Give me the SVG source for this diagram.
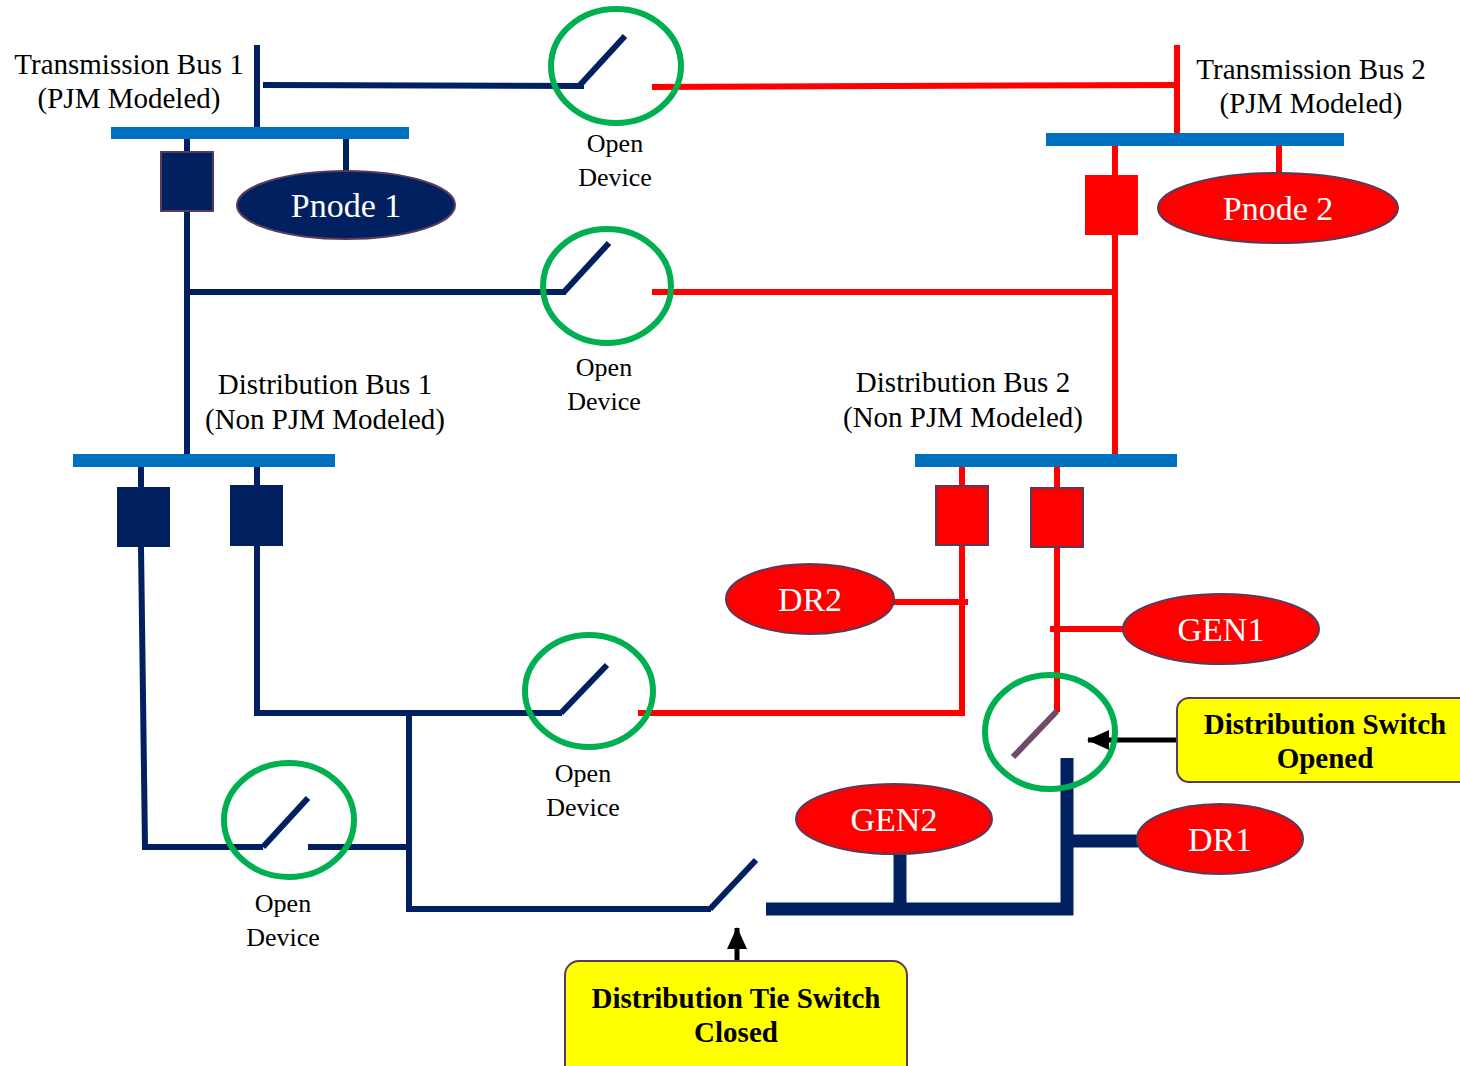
<svg xmlns="http://www.w3.org/2000/svg" width="1460" height="1066" viewBox="0 0 1460 1066">
<style>
.t{font-family:"Liberation Serif","Times New Roman",serif;font-size:26px;fill:#000;text-anchor:middle}
.l{font-family:"Liberation Serif","Times New Roman",serif;font-size:29px;fill:#000;text-anchor:middle}
.b{font-family:"Liberation Serif","Times New Roman",serif;font-size:29px;font-weight:bold;fill:#000;text-anchor:middle}
.w{font-family:"Liberation Serif","Times New Roman",serif;font-size:34px;fill:#fff;text-anchor:middle}
.nv{stroke:#002060;stroke-width:6;fill:none}
.nvt{stroke:#002060;stroke-width:13;fill:none}
.rd{stroke:#FF0000;stroke-width:6;fill:none}
.bus{fill:#0070C0}
.ring{fill:none;stroke:#00B050;stroke-width:6}
.eb{fill:#002060;stroke:#5A3A5A;stroke-width:2}
.er{fill:#FF0000;stroke:#5A3A5A;stroke-width:2}
.bxn{fill:#002060;stroke:#5A3A5A;stroke-width:2}
.bxr{fill:#FF0000;stroke:#5A3A5A;stroke-width:2}
.call{fill:#FFFF00;stroke:#5A3A5A;stroke-width:2}
</style>
<defs>
<marker id="ah" markerWidth="22" markerHeight="20" refX="21" refY="10" orient="auto" markerUnits="userSpaceOnUse">
<path d="M0,0 L22,10 L0,20 Z" fill="#000"/>
</marker>
</defs>

<g id="connectors">
<line class="nv" x1="257" y1="45" x2="257" y2="128"/>
<line class="nv" x1="263" y1="85" x2="584" y2="86"/>
<line class="nv" x1="346" y1="139" x2="346" y2="171"/>
<line class="nv" x1="187" y1="139" x2="187" y2="454"/>
<line class="nv" x1="187" y1="292" x2="566" y2="292"/>
<line class="rd" x1="652" y1="87" x2="1177" y2="85"/>
<line class="rd" x1="1177" y1="45" x2="1177" y2="134"/>
<line class="rd" x1="1279" y1="146" x2="1279" y2="174"/>
<line class="rd" x1="1115" y1="146" x2="1115" y2="454"/>
<line class="rd" x1="652" y1="292" x2="1115" y2="292"/>
<line class="nv" x1="141" y1="467" x2="141" y2="488"/>
<polyline class="nv" points="141,547 145,847 263,847"/>
<line class="nv" x1="257" y1="462" x2="257" y2="486"/>
<polyline class="nv" points="257,545 257,713 562,713"/>
<line class="nv" x1="308" y1="847" x2="409" y2="847"/>
<polyline class="nv" points="409,713 409,909 711,909"/>
<line class="rd" x1="962" y1="462" x2="962" y2="487"/>
<polyline class="rd" points="962,545 962,713 638,713"/>
<line class="rd" x1="893" y1="602" x2="968" y2="602"/>
<line class="rd" x1="1057" y1="462" x2="1057" y2="489"/>
<line class="rd" x1="1057" y1="547" x2="1057" y2="712"/>
<line class="rd" x1="1050" y1="629" x2="1124" y2="629"/>
<polyline class="nvt" points="766,909 1067,909 1067,758"/>
<line class="nvt" x1="900" y1="855" x2="900" y2="903"/>
<line class="nvt" x1="1073" y1="841" x2="1138" y2="841"/>
<line class="nv" x1="580" y1="85" x2="625" y2="36"/>
<line class="nv" x1="564" y1="292" x2="609" y2="243"/>
<line class="nv" x1="561" y1="713" x2="607" y2="665"/>
<line class="nv" x1="263" y1="847" x2="308" y2="798"/>
<line class="nv" x1="710" y1="909" x2="756" y2="860"/>
<line stroke="#704A68" stroke-width="6" x1="1057" y1="711" x2="1013" y2="757"/>
<line stroke="#000" stroke-width="5" x1="1177" y1="740" x2="1088" y2="740" marker-end="url(#ah)"/>
<line stroke="#000" stroke-width="5" x1="737" y1="960" x2="737" y2="928" marker-end="url(#ah)"/>
</g>

<g id="tbus1"><rect class="bus" x="111" y="127" width="298" height="12"/>
<text class="l" x="129" y="74">Transmission Bus 1</text><text class="l" x="129" y="108">(PJM Modeled)</text></g>
<g id="tbus2"><rect class="bus" x="1046" y="133" width="298" height="13"/>
<text class="l" x="1311" y="79">Transmission Bus 2</text><text class="l" x="1311" y="113">(PJM Modeled)</text></g>
<g id="dbus1"><rect class="bus" x="73" y="454" width="262" height="13"/>
<text class="l" x="325" y="394">Distribution Bus 1</text><text class="l" x="325" y="429">(Non PJM Modeled)</text></g>
<g id="dbus2"><rect class="bus" x="915" y="454" width="262" height="13"/>
<text class="l" x="963" y="392">Distribution Bus 2</text><text class="l" x="963" y="427">(Non PJM Modeled)</text></g>

<g id="breaker-t1"><rect class="bxn" x="161" y="152" width="52" height="59"/></g>
<g id="breaker-t2"><rect fill="#FF0000" x="1085" y="175" width="53" height="60"/></g>
<g id="breaker-d1a"><rect fill="#002060" x="117" y="487" width="53" height="60"/></g>
<g id="breaker-d1b"><rect fill="#002060" x="230" y="485" width="53" height="61"/></g>
<g id="breaker-d2a"><rect class="bxr" x="936" y="486" width="52" height="59"/></g>
<g id="breaker-d2b"><rect class="bxr" x="1031" y="488" width="52" height="59"/></g>

<g id="pnode1"><ellipse class="eb" cx="346" cy="205" rx="109" ry="34"/><text class="w" x="346" y="217">Pnode 1</text></g>
<g id="pnode2"><ellipse class="er" cx="1278" cy="208" rx="120" ry="35"/><text class="w" x="1278" y="220">Pnode 2</text></g>
<g id="dr2"><ellipse class="er" cx="810" cy="599" rx="84" ry="35"/><text class="w" x="810" y="611">DR2</text></g>
<g id="gen1"><ellipse class="er" cx="1221" cy="629" rx="98" ry="35"/><text class="w" x="1221" y="641">GEN1</text></g>
<g id="gen2"><ellipse class="er" cx="894" cy="819" rx="98" ry="35"/><text class="w" x="894" y="831">GEN2</text></g>
<g id="dr1"><ellipse class="er" cx="1220" cy="839" rx="83" ry="35"/><text class="w" x="1220" y="851">DR1</text></g>

<g id="sw-top"><ellipse class="ring" cx="616" cy="66" rx="65" ry="57"/>
<text class="t" x="615" y="152">Open</text><text class="t" x="615" y="186">Device</text></g>
<g id="sw-mid"><ellipse class="ring" cx="607" cy="286" rx="64" ry="57"/>
<text class="t" x="604" y="376">Open</text><text class="t" x="604" y="410">Device</text></g>
<g id="sw-low"><ellipse class="ring" cx="589" cy="691" rx="64" ry="56"/>
<text class="t" x="583" y="782">Open</text><text class="t" x="583" y="816">Device</text></g>
<g id="sw-left"><ellipse class="ring" cx="289" cy="820" rx="65" ry="57"/>
<text class="t" x="283" y="912">Open</text><text class="t" x="283" y="946">Device</text></g>
<g id="sw-dist"><ellipse class="ring" cx="1050" cy="732" rx="65" ry="57"/></g>

<g id="callout-opened"><rect class="call" x="1177" y="698" width="300" height="84" rx="12"/>
<text class="b" x="1325" y="734">Distribution Switch</text><text class="b" x="1325" y="768">Opened</text></g>
<g id="callout-closed"><rect class="call" x="565" y="961" width="342" height="120" rx="14"/>
<text class="b" x="736" y="1008">Distribution Tie Switch</text><text class="b" x="736" y="1042">Closed</text></g>
</svg>
